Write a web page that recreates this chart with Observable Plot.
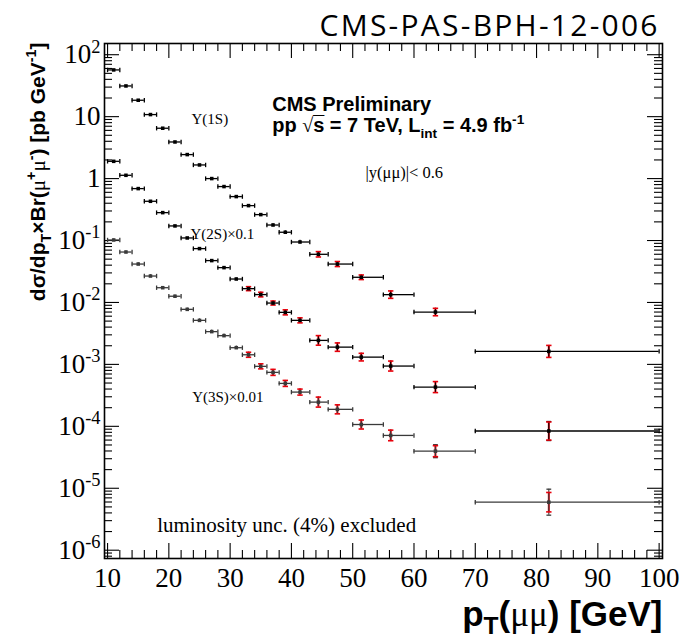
<!DOCTYPE html>
<html><head><meta charset="utf-8">
<script src="https://cdn.jsdelivr.net/npm/d3@7"></script>
<script src="https://cdn.jsdelivr.net/npm/@observablehq/plot@0.6"></script>
<style>body{margin:0;background:#fff} svg{display:block}</style>
</head><body><div id="chart"></div>
<script>
// ---- data ----
const ptMean  = [11,13,15,17,19,21,23,25,27,29,31,33,35,37,39,41.4,44.4,47.5,51.4,56.2,63.5,82];
const binLow  = [10,12,14,16,18,20,22,24,26,28,30,32,34,36,38,40,43,46,50,55,60,70];
const binHigh = [12,14,16,18,20,22,24,26,28,30,32,34,36,38,40,43,46,50,55,60,70,100];

const ups1S = [56.8,31.3,18.4,10.8,6.50,3.90,2.44,1.66,1.00,0.743,0.512,0.366,0.262,0.178,0.136,0.0946,0.0599,0.0417,0.0255,0.01337,0.0070,0.00162];
const ups2S = [19.0,11.3,6.89,4.30,2.82,1.72,1.10,0.740,0.474,0.365,0.239,0.167,0.134,0.0978,0.0692,0.0514,0.0244,0.0190,0.0131,0.0094,0.0043,0.00084];
const ups3S = [10.2,6.52,4.17,2.67,1.73,1.26,0.774,0.514,0.338,0.291,0.186,0.143,0.093,0.0743,0.0493,0.0357,0.0246,0.0188,0.0107,0.00713,0.00397,0.000596];

const scale2S = 0.1;
const scale3S = 0.01;

// relative uncertainties (black bar / red caps)
const stat1S = [0.02,0.02,0.02,0.02,0.02,0.02,0.02,0.02,0.02,0.02,0.025,0.03,0.038,0.049,0.057,0.07,0.105,0.098,0.089,0.148,0.148,0.25];
const syst1S = [0,0,0,0,0,0,0,0,0,0,0,0,0,0,0,0,0.105,0.098,0.089,0.148,0.148,0.25];
const stat2S = [0.02,0.02,0.02,0.02,0.02,0.02,0.02,0.02,0.02,0.038,0.038,0.077,0.089,0.077,0.098,0.098,0.195,0.169,0.152,0.204,0.227,0.424];
const syst2S = [0,0,0,0,0,0,0,0,0,0,0,0.077,0.089,0.077,0.098,0.098,0.195,0.169,0.152,0.204,0.227,0.40];
const stat3S = [0.04,0.04,0.045,0.05,0.05,0.05,0.055,0.057,0.06,0.06,0.07,0.098,0.098,0.118,0.118,0.118,0.204,0.182,0.182,0.218,0.273,0.621];
const syst3S = [0,0,0,0,0,0,0,0,0,0,0,0.098,0.098,0.118,0.118,0.118,0.204,0.182,0.182,0.218,0.227,0.435];

const xTicks = [10,20,30,40,50,60,70,80,90,100];
const yTicks = [1e2,1e1,1,1e-1,1e-2,1e-3,1e-4,1e-5,1e-6];

// ---- layout ----
const W = 694, H = 641;
const mL = 104, mR = 32, mT = 43, mB = 83;
const FW = W - mL - mR, FH = H - mT - mB;
const xDom = [9.5, 100.55];
const yDom = [Math.pow(10, -6.134), Math.pow(10, 2.181)];

const series = [
  {vals: ups1S, f: 1, stat: stat1S, syst: syst1S, color: "#000"},
  {vals: ups2S, f: scale2S, stat: stat2S, syst: syst2S, color: "#000"},
  {vals: ups3S, f: scale3S, stat: stat3S, syst: syst3S, color: "#3a3a3a"}
];
const rows = series.flatMap(s => ptMean.map((x, i) => ({
  x, lo: binLow[i], hi: binHigh[i], v: s.vals[i] * s.f,
  stat: s.stat[i], syst: s.syst[i], color: s.color
})));

const xMinor = d3.range(10, 101, 2).filter(v => v % 10 !== 0);
const yMinor = [];
for (let e = -7; e <= 2; e++) for (let k = 2; k <= 9; k++) {
  const v = +(k + "e" + e);
  if (v >= yDom[0] && v <= yDom[1]) yMinor.push(v);
}

const vbar = {draw(ctx, size) { const r = Math.sqrt(size / Math.PI); ctx.moveTo(0, -r); ctx.lineTo(0, r); }};
const hbar = {draw(ctx, size) { const r = Math.sqrt(size / Math.PI); ctx.moveTo(-r, 0); ctx.lineTo(r, 0); }};

const RED = "#e8000b";
const serif = "Liberation Serif";
const sans = "Liberation Sans";

const fmtExp = d => {
  const e = Math.round(Math.log10(d));
  return e === 0 ? "1" : e === 1 ? "10" : "10^" + e;
};

const TITLE = "CMS-PAS-BPH-12-006";
const ENERGY = "pp √s = 7 TeV, Lint = 4.9 fb-1";
const XLABEL = "pT(μμ) [GeV]";
const YLABEL = "dσ/dpT×Br(μ+μ-) [pb GeV-1]";

const chart = Plot.plot({
  width: W, height: H,
  marginLeft: mL, marginRight: mR, marginTop: mT, marginBottom: mB,
  style: {background: "white", color: "black", fontFamily: serif},
  x: {type: "linear", domain: xDom},
  y: {type: "log", domain: yDom},
  marks: [
    // ticks (inside the frame, on all four sides)
    Plot.tickX(xTicks, {x: d => d, insetTop: FH - 15, strokeWidth: 1.1}),
    Plot.tickX(xMinor, {x: d => d, insetTop: FH - 8, strokeWidth: 1.1}),
    Plot.tickX(xTicks, {x: d => d, insetBottom: FH - 15, strokeWidth: 1.1}),
    Plot.tickX(xMinor, {x: d => d, insetBottom: FH - 8, strokeWidth: 1.1}),
    Plot.tickY(yTicks, {y: d => d, insetRight: FW - 15, strokeWidth: 1.1}),
    Plot.tickY(yMinor, {y: d => d, insetRight: FW - 8, strokeWidth: 1.1}),
    Plot.tickY(yTicks, {y: d => d, insetLeft: FW - 15, strokeWidth: 1.1}),
    Plot.tickY(yMinor, {y: d => d, insetLeft: FW - 8, strokeWidth: 1.1}),
    Plot.frame({stroke: "black", strokeWidth: 1.6}),
    Plot.axisX(xTicks, {anchor: "bottom", tickSize: 0, tickPadding: 9, fontSize: 27, fontFamily: serif, label: null}),
    Plot.axisY(yTicks, {anchor: "left", tickSize: 0, tickPadding: 4, tickFormat: fmtExp, fontSize: 27, fontFamily: serif, label: null}),

    // horizontal bin-width bars with end caps
    Plot.ruleY(rows, {y: "v", x1: "lo", x2: "hi", stroke: "color", strokeWidth: 1.3}),
    Plot.dot(rows, {x: "lo", y: "v", symbol: vbar, r: 2.2, stroke: "color", strokeWidth: 1.3, fill: "none"}),
    Plot.dot(rows, {x: "hi", y: "v", symbol: vbar, r: 2.2, stroke: "color", strokeWidth: 1.3, fill: "none"}),
    // red (systematic) bars and caps
    Plot.ruleX(rows.filter(d => d.syst > 0), {x: "x", y1: d => d.v / (1 + d.syst), y2: d => d.v * (1 + d.syst), stroke: RED, strokeWidth: 2}),
    // vertical statistical bars
    Plot.ruleX(rows, {x: "x", y1: d => d.v / (1 + d.stat), y2: d => d.v * (1 + d.stat), stroke: "color", strokeWidth: 1.1}),
    Plot.dot(rows.filter(d => d.stat > d.syst + 0.02 && d.stat > 0.09), {x: "x", y: d => d.v * (1 + d.stat), symbol: hbar, r: 2.4, stroke: "color", strokeWidth: 1.3, fill: "none"}),
    Plot.dot(rows.filter(d => d.stat > d.syst + 0.02 && d.stat > 0.09), {x: "x", y: d => d.v / (1 + d.stat), symbol: hbar, r: 2.4, stroke: "color", strokeWidth: 1.3, fill: "none"}),
    Plot.dot(rows.filter(d => d.syst > 0), {x: "x", y: d => d.v * (1 + d.syst), symbol: hbar, r: 2.7, stroke: RED, strokeWidth: 1.6, fill: "none"}),
    Plot.dot(rows.filter(d => d.syst > 0), {x: "x", y: d => d.v / (1 + d.syst), symbol: hbar, r: 2.7, stroke: RED, strokeWidth: 1.6, fill: "none"}),
    // markers
    Plot.dot(rows, {x: "x", y: "v", symbol: "square", r: 2, fill: "color", stroke: "none"}),

    // annotations
    Plot.text([TITLE], {frameAnchor: "top-right", textAnchor: "end", lineAnchor: "bottom", dx: -5, dy: -8, fontSize: 30, fontFamily: "Open Sans"}),
    Plot.text(["CMS Preliminary"], {frameAnchor: "top-left", textAnchor: "start", lineAnchor: "bottom", dx: 167.7, dy: 67, fontSize: 20, fontWeight: "bold", fontFamily: sans}),
    Plot.text([ENERGY], {frameAnchor: "top-left", textAnchor: "start", lineAnchor: "bottom", dx: 167.7, dy: 88.7, fontSize: 20, fontWeight: "bold", fontFamily: sans}),
    Plot.text(["|y(μμ)|< 0.6"], {frameAnchor: "top-left", textAnchor: "start", lineAnchor: "bottom", dx: 261, dy: 134, fontSize: 16.5, fontFamily: serif}),
    Plot.text(["Υ(1S)"], {frameAnchor: "top-left", textAnchor: "start", lineAnchor: "bottom", dx: 87, dy: 80.5, fontSize: 15, fontFamily: serif}),
    Plot.text(["Υ(2S)×0.1"], {frameAnchor: "top-left", textAnchor: "start", lineAnchor: "bottom", dx: 86, dy: 195.5, fontSize: 15, fontFamily: serif}),
    Plot.text(["Υ(3S)×0.01"], {frameAnchor: "top-left", textAnchor: "start", lineAnchor: "bottom", dx: 87.7, dy: 358.7, fontSize: 15, fontFamily: serif}),
    Plot.text(["luminosity unc. (4%) excluded"], {frameAnchor: "top-left", textAnchor: "start", lineAnchor: "bottom", dx: 52.7, dy: 488, fontSize: 21, fontFamily: serif}),
    Plot.text([XLABEL], {frameAnchor: "bottom-right", textAnchor: "end", lineAnchor: "bottom", dx: 0, dy: 67, fontSize: 35, fontWeight: "bold", fontFamily: sans}),
    Plot.text([YLABEL], {frameAnchor: "top-left", textAnchor: "end", lineAnchor: "bottom", rotate: -90, dx: -60, dy: -1, fontSize: 21, fontWeight: "bold", fontFamily: sans})
  ]
});

document.getElementById("chart").appendChild(chart);

// ---- rich text (superscripts / subscripts / mixed fonts) ----
const NS = "http://www.w3.org/2000/svg";
function rich(textEl, parts, fs) {
  textEl.textContent = "";
  let cur = 0;
  for (const p of parts) {
    const ts = document.createElementNS(NS, "tspan");
    ts.textContent = p.t;
    const shift = p.sup ? -(p.supShift ?? 0.42) * fs : p.sub ? (p.subShift ?? 0.3) * fs : 0;
    if (shift !== cur) { ts.setAttribute("dy", shift - cur); cur = shift; }
    if (p.sup || p.sub) ts.setAttribute("font-size", fs * (p.scale ?? 0.68));
    if (p.font) ts.setAttribute("font-family", p.font);
    if (p.weight) ts.setAttribute("font-weight", p.weight);
    textEl.appendChild(ts);
  }
}
const allText = Array.from(chart.querySelectorAll("text"));
const find = s => allText.find(t => t.textContent === s);

// y tick labels: 10^n
chart.querySelectorAll('g[aria-label="y-axis tick label"] text').forEach(t => {
  const s = t.textContent;
  if (s.includes("^")) {
    const [b, e] = s.split("^");
    rich(t, [{t: b}, {t: e, sup: true, scale: 0.68, supShift: 0.4}], 27);
  }
});

const title = find(TITLE);
if (title) { title.setAttribute("textLength", 338); title.setAttribute("lengthAdjust", "spacing"); }

const en = find(ENERGY);
if (en) rich(en, [
  {t: "pp "}, {t: "√", font: serif, weight: "normal"}, {t: "s\u0305"}, {t: " = 7 TeV, L"},
  {t: "int", sub: true}, {t: " = 4.9 fb"}, {t: "-1", sup: true}
], 20);

const xl = find(XLABEL);
if (xl) rich(xl, [
  {t: "p"}, {t: "T", sub: true, scale: 0.7, subShift: 0.25}, {t: "("}, {t: "μμ", font: serif, weight: "normal"}, {t: ")"}, {t: " [GeV]"}
], 35);

const yl = find(YLABEL);
if (yl) rich(yl, [
  {t: "dσ/dp"}, {t: "T", sub: true}, {t: "×Br("}, {t: "μ", font: serif, weight: "normal"}, {t: "+", sup: true},
  {t: "μ", font: serif, weight: "normal"}, {t: "-", sup: true}, {t: ") [pb GeV"}, {t: "-1", sup: true}, {t: "]"}
], 21);
</script>
</body></html>
